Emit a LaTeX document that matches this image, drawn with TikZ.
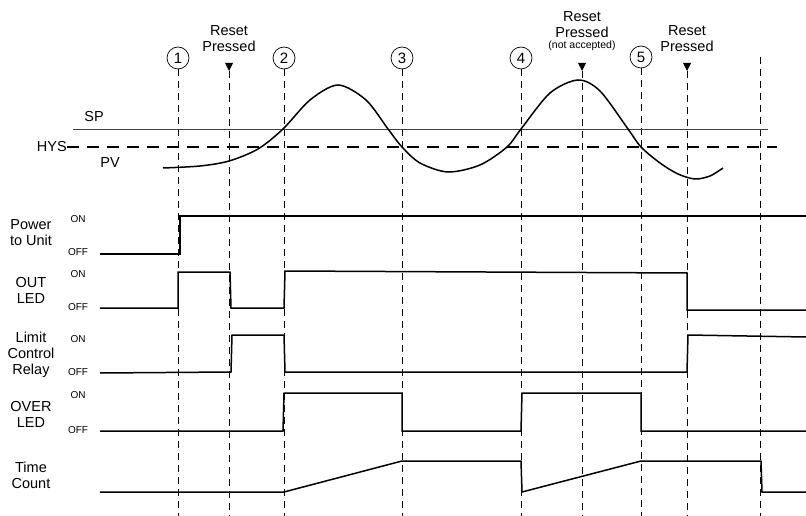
\documentclass[tikz,border=0pt]{standalone}
\usepackage{fontspec}
\setmainfont{Liberation Sans}
\begin{document}
\begin{tikzpicture}[x=1pt,y=-1pt,
  lbl/.style={font=\fontsize{14.5}{16}\selectfont, align=center, inner sep=0},
  st/.style={font=\fontsize{10}{11}\selectfont, inner sep=0},
  num/.style={draw, circle, minimum size=22pt, inner sep=0, font=\fontsize{15}{15}\selectfont, line width=0.7pt},
  vdash/.style={dash pattern=on 7pt off 5pt, line width=0.8pt},
  wave/.style={line width=1.5pt, line join=miter},
  tri/.style={fill=black}
]
\useasboundingbox (0,0) rectangle (806,516);

% numbered event markers
\node[num] (c1) at (178,58) {1};
\node[num] (c2) at (284,58) {2};
\node[num] (c3) at (402,58) {3};
\node[num] (c4) at (521,58) {4};
\node[num] (c5) at (641,57) {5};

% reset labels
\node[lbl] (rp1) at (229,39) {Reset\\Pressed};
\node[lbl] (rp2) at (582,24.5) {Reset\\Pressed};
\node[inner sep=0, font=\fontsize{10.5}{11}\selectfont] (na) at (582,46) {(not accepted)};
\node[lbl] (rp3) at (687,39) {Reset\\Pressed};

% triangles
\coordinate (r1) at (229,71);
\coordinate (r2) at (582,71);
\coordinate (r3) at (687,71);
\foreach \r in {r1,r2,r3}{
  \fill[tri] (\r) -- ++(-4,-8) -- ++(8,0) -- cycle;
}
\coordinate (top6) at (760,57);

% bottom ends
\coordinate (b1) at (178,516);
\coordinate (b2) at (284,516);
\coordinate (b3) at (402,516);
\coordinate (b4) at (521,516);
\coordinate (b5) at (641,516);
\coordinate (br1) at (229,516);
\coordinate (br2) at (582,516);
\coordinate (br3) at (687,516);
\coordinate (b6) at (760,516);

\draw[vdash] (c1.south) -- (b1);
\draw[vdash] (c2.south) -- (b2);
\draw[vdash] (c3.south) -- (b3);
\draw[vdash] (c4.south) -- (b4);
\draw[vdash] (c5.south) -- (b5);
\draw[vdash] (r1) -- (br1);
\draw[vdash] (r2) -- (br2);
\draw[vdash] (r3) -- (br3);
\draw[vdash] (top6) -- (b6);

% SP / HYS / PV
\node[lbl] (sp) at (94,117) {SP};
\node[lbl, anchor=east] (hys) at (67,147) {HYS};
\node[lbl] (pv) at (110,163) {PV};
\draw[line width=0.8pt, black!75] (73,129) -- (768,129);
\draw[line width=1.6pt, dash pattern=on 12pt off 8pt] (hys.east) -- (777,147);

\draw[line width=1.5pt] plot[smooth, tension=0.5] coordinates {
 (163,168) (200,166) (229,161) (258,149) (283,129) (310,100) (338,85) (366,100)
 (388,129) (402,147) (420,163) (448,172) (480,165) (507,147) (521,129)
 (550,93) (578,80) (600,91) (628,129) (641,147) (660,163) (678,174) (695,179) (710,176) (723,168)};

% left labels
\node[lbl] (lp) at (31,233) {Power\\to Unit};
\node[lbl] (lo) at (31,290) {OUT\\LED};
\node[lbl] (ll) at (31,355) {Limit\\Control\\Relay};
\node[lbl] (lv) at (31,414.5) {OVER\\LED};
\node[lbl] (lt) at (31,475.5) {Time\\Count};

\node[st] (on1) at (78,219.5) {ON};
\node[st] (off1) at (78,252.5) {OFF};
\node[st] (on2) at (78,274) {ON};
\node[st] (off2) at (78,307.5) {OFF};
\node[st] (on3) at (78,339) {ON};
\node[st] (off3) at (78,372.5) {OFF};
\node[st] (on4) at (78,395) {ON};
\node[st] (off4) at (78,430.5) {OFF};

% waveforms
\draw[wave] (100,254) -- (180,254) -- (180,216) -- (806,216);
\draw[wave] (100,308) -- (178,308) -- (178,272) -- (230,272) -- (231,308) -- (284,308)
  -- (285,271) -- (687,273) -- (687,310) -- (806,310);
\draw[wave] (100,373) -- (231,372) -- (232,335) -- (284,335) -- (285,372) -- (687,372)
  -- (688,335) -- (806,337);
\draw[wave] (100,431) -- (283,431) -- (284,393) -- (402,393) -- (402,431) -- (521,431)
  -- (522,393) -- (641,393) -- (641,431) -- (806,431);
\draw[wave] (100,492) -- (284,492) -- (402,461) -- (521,461) -- (522,492) -- (641,461)
  -- (761,461) -- (762,492) -- (806,492);
\end{tikzpicture}
\end{document}
